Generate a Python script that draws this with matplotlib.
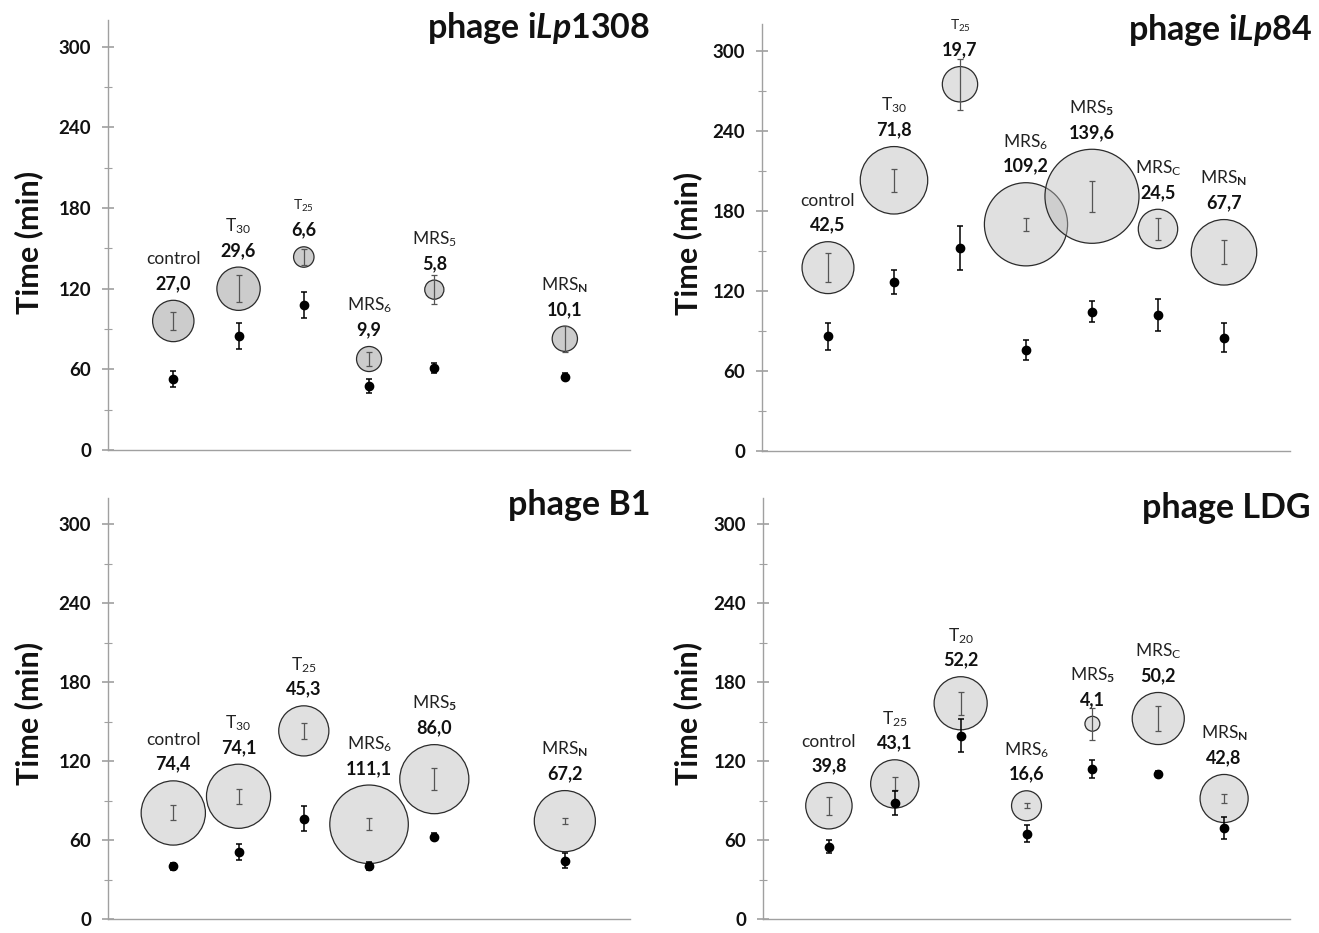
import matplotlib
matplotlib.use("Agg")
import matplotlib.pyplot as plt
import numpy as np

plt.rcParams['font.family'] = ['Lato', 'DejaVu Sans']
plt.rcParams['mathtext.fontset'] = 'custom'
plt.rcParams['mathtext.rm'] = 'Lato'
plt.rcParams['mathtext.it'] = 'Lato:italic:bold'
plt.rcParams['mathtext.bf'] = 'Lato:bold'

# --- data ---
# phage iLp1308
p1_pos = [1, 2, 3, 4, 5, 7]
p1_cat = ['control', 'T$_{30}$', 'T$_{25}$', 'MRS$_{6}$', 'MRS$_{5}$', 'MRS$_\\mathbf{N}$']
p1_size = [27.0, 29.6, 6.6, 9.9, 5.8, 10.1]
p1_bub = [96, 120, 143.6, 67.7, 119.3, 82.8]
p1_bub_err = [7, 10, 6, 5, 10.7, 9.7]
p1_dot = [52.8, 84.8, 107.9, 47.6, 61, 54.5]
p1_dot_err = [6.3, 9.4, 9.8, 5.3, 3.5, 2.5]

# phage iLp84
p2_pos = [1, 2, 3, 4, 5, 6, 7]
p2_cat = ['control', 'T$_{30}$', 'T$_{25}$', 'MRS$_{6}$', 'MRS$_\\mathbf{5}$',
          'MRS$_\\mathrm{C}$', 'MRS$_\\mathbf{N}$']
p2_size = [42.5, 71.8, 19.7, 109.2, 139.6, 24.5, 67.7]
p2_bub = [137.5, 203, 275, 170, 191, 166.5, 149]
p2_bub_err = [11, 8.5, 19, 5, 11.5, 8.5, 9]
p2_dot = [86, 127, 152, 76, 104.5, 102, 85]
p2_dot_err = [10, 9, 16.5, 7.5, 8, 12, 11]

# phage B1
p3_pos = [1, 2, 3, 4, 5, 7]
p3_cat = ['control', 'T$_{30}$', 'T$_{25}$', 'MRS$_{6}$', 'MRS$_\\mathbf{5}$', 'MRS$_\\mathbf{N}$']
p3_size = [74.4, 74.1, 45.3, 111.1, 86.0, 67.2]
p3_bub = [80.6, 93.3, 143, 72, 106.3, 74.4]
p3_bub_err = [5.7, 5.8, 5.8, 4.4, 8.5, 2]
p3_dot = [40, 51, 76.3, 40.2, 62.6, 44.4]
p3_dot_err = [2.5, 5.8, 9.3, 3, 2.5, 6]

# phage LDG
p4_pos = [1, 2, 3, 4, 5, 6, 7]
p4_cat = ['control', 'T$_{25}$', 'T$_{20}$', 'MRS$_{6}$', 'MRS$_\\mathbf{5}$',
          'MRS$_\\mathrm{C}$', 'MRS$_\\mathbf{N}$']
p4_size = [39.8, 43.1, 52.2, 16.6, 4.1, 50.2, 42.8]
p4_bub = [86.1, 102.7, 164, 86.1, 148.4, 152.4, 91.6]
p4_bub_err = [6.8, 5, 8.6, 2, 12, 9.3, 3.7]
p4_dot = [54.8, 88.3, 139.2, 64.8, 113.9, 110.2, 69]
p4_dot_err = [5, 9.3, 12.5, 6.4, 7, 2.5, 8.5]

titles = ['phage i$Lp$1308', 'phage i$Lp$84', 'phage B1', 'phage LDG']

fig = plt.figure(figsize=(13.19, 9.33), dpi=100)

# axes boxes in figure fractions (left, bottom, width, height)
boxes = [(0.0819, 0.5177, 0.3958, 0.4609),
         (0.5777, 0.5166, 0.4003, 0.4574),
         (0.0819, 0.0150, 0.3958, 0.4512),
         (0.5785, 0.0150, 0.3995, 0.4512)]
title_xy = [(0.4928, 0.970), (0.9947, 0.968), (0.4928, 0.4587), (0.9935, 0.4555)]
ylab_xy = [(0.0216, 0.7406), (0.5216, 0.7395), (0.0216, 0.2350), (0.5216, 0.2350)]
bub_px = [7.96, 7.96, 7.45, 7.35]            # bubble diameter px per sqrt(value)
bub_face = [(0.55, 0.55, 0.55, 0.44), (0.72, 0.72, 0.72, 0.43),
            (0.72, 0.72, 0.72, 0.43), (0.72, 0.72, 0.72, 0.43)]
small_lab = [{2}, {2}, set(), set()]

panels = [(p1_pos, p1_cat, p1_size, p1_bub, p1_bub_err, p1_dot, p1_dot_err),
          (p2_pos, p2_cat, p2_size, p2_bub, p2_bub_err, p2_dot, p2_dot_err),
          (p3_pos, p3_cat, p3_size, p3_bub, p3_bub_err, p3_dot, p3_dot_err),
          (p4_pos, p4_cat, p4_size, p4_bub, p4_bub_err, p4_dot, p4_dot_err)]

for i, (pos, cat, size, bub, bub_err, dot, dot_err) in enumerate(panels):
    ax = fig.add_axes(boxes[i])
    d_pt = bub_px[i] * 0.72 * np.sqrt(size)
    ax.scatter(pos, bub, s=d_pt**2, facecolors=[bub_face[i]], edgecolors='#2b2b2b',
               linewidths=0.9, zorder=2)
    ax.errorbar(pos, bub, yerr=bub_err, fmt='none', ecolor='#555555', elinewidth=0.9,
                capsize=2.5, capthick=0.9, zorder=3)
    ax.errorbar(pos, dot, yerr=dot_err, fmt='o', color='black', ms=6, elinewidth=1.1,
                capsize=2.5, capthick=1.1, zorder=4)

    for j in range(len(pos)):
        r = d_pt[j] / 2
        fs = 10 if j in small_lab[i] else 12.5
        lab = f"{size[j]:.1f}".replace('.', ',')
        ax.annotate(lab, (pos[j], bub[j]), xytext=(0, r + 12), textcoords='offset points',
                    ha='center', va='center', fontsize=13, fontweight='bold', color='#111111')
        ax.annotate(cat[j], (pos[j], bub[j]), xytext=(0, r + 29.5), textcoords='offset points',
                    ha='center', va='center', fontsize=fs, color='#222222')

    ax.set_xlim(0, 8)
    ax.set_ylim(0, 320)
    ax.set_xticks([])
    ax.set_yticks(np.arange(0, 301, 60))
    ax.set_yticks(np.arange(30, 300, 60), minor=True)
    for side in ['top', 'right']:
        ax.spines[side].set_visible(False)
    for side in ['left', 'bottom']:
        ax.spines[side].set_color('#a0a0a0')
        ax.spines[side].set_linewidth(1.0)
    ax.tick_params(axis='y', which='major', direction='inout', length=8, width=1.2,
                   color='#a0a0a0', pad=8, labelsize=13.5)
    ax.tick_params(axis='y', which='minor', direction='inout', length=6, width=0.8,
                   color='#a0a0a0')
    for t in ax.get_yticklabels():
        t.set_fontweight('bold')
        t.set_color('#111111')
    ax.patch.set_alpha(0)

    fig.text(title_xy[i][0], title_xy[i][1], titles[i], ha='right', va='center',
             fontsize=24.5, fontweight='bold', color='#111111')
    fig.text(ylab_xy[i][0], ylab_xy[i][1], 'Time (min)', rotation=90, ha='center',
             va='center', fontsize=22, fontweight='bold', color='#111111')

fig.savefig('out.png', dpi=100)
